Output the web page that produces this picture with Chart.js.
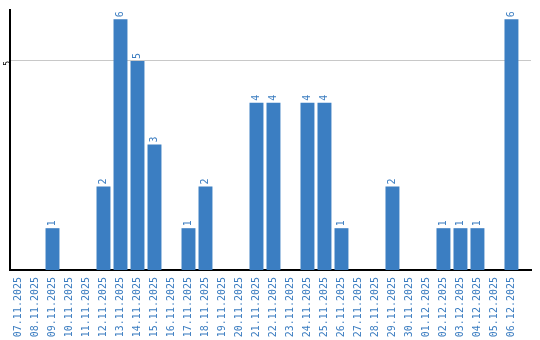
<!DOCTYPE html>
<html>
<head>
<meta charset="utf-8">
<script src="https://cdn.jsdelivr.net/npm/chart.js@4"></script>
<style>
  html, body { margin: 0; padding: 0; background: #fff; }
  #wrap { width: 540px; height: 340px; }
</style>
</head>
<body>
<div id="wrap"><canvas id="chart"></canvas></div>
<script>
// dates and daily counts
const labels = ['07.11.2025', '08.11.2025', '09.11.2025', '10.11.2025', '11.11.2025', '12.11.2025',
    '13.11.2025', '14.11.2025', '15.11.2025', '16.11.2025', '17.11.2025', '18.11.2025',
    '19.11.2025', '20.11.2025', '21.11.2025', '22.11.2025', '23.11.2025', '24.11.2025',
    '25.11.2025', '26.11.2025', '27.11.2025', '28.11.2025', '29.11.2025', '30.11.2025',
    '01.12.2025', '02.12.2025', '03.12.2025', '04.12.2025', '05.12.2025', '06.12.2025'];
const counts = [0, 0, 1, 0, 0, 2, 6, 5, 3, 0, 1, 2, 0, 0, 4, 4, 0, 4, 4, 1, 0, 0, 2, 0, 0, 1, 1, 1, 0, 6];
const yTicks = [5];

const blue = '#3b7ec2';
const textBlue = '#3a7cc0';
const monoFont = '"DejaVu Sans Mono"';

// value above each bar, rotated
const valueLabels = {
    id: 'valueLabels',
    afterDatasetsDraw(chart) {
        const ctx = chart.ctx;
        const meta = chart.getDatasetMeta(0);
        ctx.save();
        ctx.font = '10px ' + monoFont;
        ctx.fillStyle = textBlue;
        ctx.textAlign = 'left';
        ctx.textBaseline = 'middle';
        meta.data.forEach((bar, i) => {
            const v = counts[i];
            if (!v) return;
            ctx.save();
            ctx.translate(bar.x, bar.y - 2);
            ctx.rotate(-Math.PI / 2);
            ctx.fillText(String(v), 0, 0);
            ctx.restore();
        });
        ctx.restore();
    }
};

Chart.defaults.font.family = monoFont;
Chart.defaults.font.size = 10;

new Chart(document.getElementById('chart'), {
    type: 'bar',
    data: {
        labels: labels,
        datasets: [{
            data: counts,
            backgroundColor: blue,
            borderWidth: 0,
            categoryPercentage: 1,
            barPercentage: 0.82
        }]
    },
    options: {
        responsive: true,
        maintainAspectRatio: false,
        animation: false,
        layout: { padding: { top: 10, right: 9, left: 0, bottom: 0 } },
        plugins: {
            legend: { display: false },
            tooltip: { enabled: false }
        },
        scales: {
            x: {
                // a little empty room after the last day, as in the original
                afterBuildTicks: axis => { axis._valueRange = labels.length + 0.65; },
                afterFit: axis => { axis.height = 70; },
                grid: { display: false, drawTicks: false },
                border: { color: '#000', width: 2 },
                ticks: {
                    color: textBlue,
                    minRotation: 90,
                    maxRotation: 90,
                    autoSkip: false,
                    padding: 7,
                    font: { size: 10 }
                }
            },
            y: {
                min: 0,
                max: 6.22,
                afterBuildTicks: axis => {
                    axis.ticks = yTicks.map(v => ({ value: v }));
                },
                afterFit: axis => { axis.width = 10; },
                grid: { color: '#c8c8c8', drawTicks: false },
                border: { color: '#000', width: 2 },
                ticks: {
                    color: '#000',
                    minRotation: 90,
                    maxRotation: 90,
                    padding: 2,
                    font: { size: 8 }
                }
            }
        }
    },
    plugins: [valueLabels]
});
</script>
</body>
</html>
